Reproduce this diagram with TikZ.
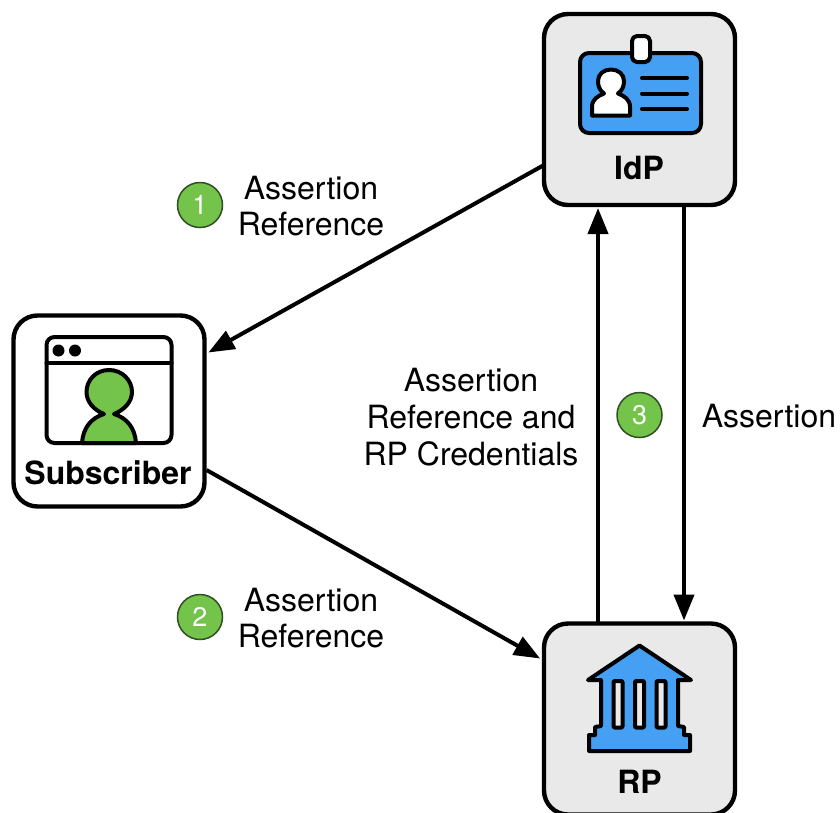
\documentclass[tikz,border=0pt]{standalone}
\usepackage{fontspec}
\setmainfont{TeX Gyre Heros}
\usetikzlibrary{arrows.meta}
\definecolor{boxgrey}{HTML}{E9E9E9}
\definecolor{iconblue}{HTML}{459FF2}
\definecolor{icongreen}{HTML}{74C34A}
\definecolor{badgeedge}{HTML}{2F4F25}
\tikzset{
  actor/.style={draw=black,line width=4.4pt,rounded corners=24pt,minimum width=191pt,minimum height=191pt,inner sep=0pt,outer sep=0pt},
  icon/.style={draw=black,line width=4pt,line join=round,line cap=round},
  flow/.style={draw=black,line width=4pt,-{Triangle[length=26pt,width=20pt]},shorten >=1pt},
  lbl/.style={font=\fontsize{32}{36.8}\selectfont,align=center,text=black,inner sep=0pt},
  actorname/.style={font=\fontsize{32}{36}\selectfont\bfseries,text=black,inner sep=0pt},
  badge/.style={circle,draw=badgeedge,line width=1.5pt,fill=icongreen,minimum size=45pt,inner sep=0pt,text=white,font=\fontsize{27}{30}\selectfont}
}
\begin{document}
\begin{tikzpicture}[x=1pt,y=-1pt]
\useasboundingbox (0,0) rectangle (840,812);
% boxes
\node[actor,fill=boxgrey] (idp) at (639.5,109.5) {};
\node[actor,fill=white] (sub) at (109,411) {};
\node[actor,fill=boxgrey] (rp) at (639.5,719) {};
% IdP icon
\draw[icon,fill=iconblue,rounded corners=9pt] (580,53) rectangle (701,133);
\draw[icon,fill=white,rounded corners=5pt] (632,36) rectangle (650,62);
\draw[icon,fill=white] (592,115.5) -- (592,107) .. controls (592,99) and (598,96) .. (604,93.5)
  .. controls (599,90) and (598,85) .. (598,81) .. controls (598,74) and (604,69.5) .. (611,69.5)
  .. controls (618,69.5) and (624,74) .. (624,81) .. controls (624,85) and (623,90) .. (618,93.5)
  .. controls (624,96) and (630,99) .. (630,107) -- (630,115.5) -- cycle;
\draw[icon] (642,78) -- (687,78) (642,93.5) -- (687,93.5) (642,109) -- (687,109);
% Subscriber icon
\draw[icon,fill=white,rounded corners=8pt] (46.5,337) rectangle (171.5,443);
\draw[icon] (46.5,363) -- (171.5,363);
\fill[black] (58.5,350.5) circle (6pt) (75,350.5) circle (6pt);
\draw[icon,fill=icongreen,line cap=butt] (82,443) .. controls (83,428) and (91,418) .. (104,414)
  .. controls (94,410) and (86.5,402) .. (86.5,392) .. controls (86.5,380) and (96,370) .. (109,370)
  .. controls (122,370) and (132,380) .. (132,392) .. controls (132,402) and (124,410) .. (114,414)
  .. controls (127,418) and (135,428) .. (136,443) -- cycle;
% RP icon
\draw[icon,fill=iconblue] (639.5,645.5) -- (691,680) -- (678,680) -- (678,726) -- (684,727) -- (684,735) -- (690,735)
  -- (690,751) -- (589,751) -- (589,735) -- (595,735) -- (595,727) -- (601,726) -- (601,680) -- (588,680) -- cycle;
\draw[icon,fill=boxgrey,rounded corners=1pt] (613.5,681) rectangle (622.5,727.5);
\draw[icon,fill=boxgrey,rounded corners=1pt] (635,681) rectangle (644,727.5);
\draw[icon,fill=boxgrey,rounded corners=1pt] (656.5,681) rectangle (665.5,727.5);
% names
\node[actorname] (idpname) at (639,168) {IdP};
\node[actorname] (subname) at (108,473) {Subscriber};
\node[actorname] (rpname) at (639.5,782) {RP};
% connectors
\draw[flow] ([yshift=-55.5pt]idp.west) -- ([yshift=58pt,xshift=3pt]sub.east);
\draw[flow] ([yshift=-59pt,xshift=2pt]sub.east) -- ([yshift=60pt,xshift=-3pt]rp.west);
\draw[flow] ([xshift=-41.5pt]rp.north) -- ([xshift=-41.5pt,yshift=-2pt]idp.south);
\draw[flow] ([xshift=44.5pt]idp.south) -- ([xshift=44.5pt,yshift=2pt]rp.north);
% badges
\node[badge] (b1) at (200,205) {1};
\node[badge] (b2) at (200,617) {2};
\node[badge] (b3) at (639.5,415) {3};
% labels
\node[lbl] (l1) at (311,206) {Assertion\\Reference};
\node[lbl] (l2) at (311,618) {Assertion\\Reference};
\node[lbl] (l3) at (471,417) {Assertion\\Reference and\\RP Credentials};
\node[lbl] (l4) at (769,416) {Assertion};
\end{tikzpicture}
\end{document}
